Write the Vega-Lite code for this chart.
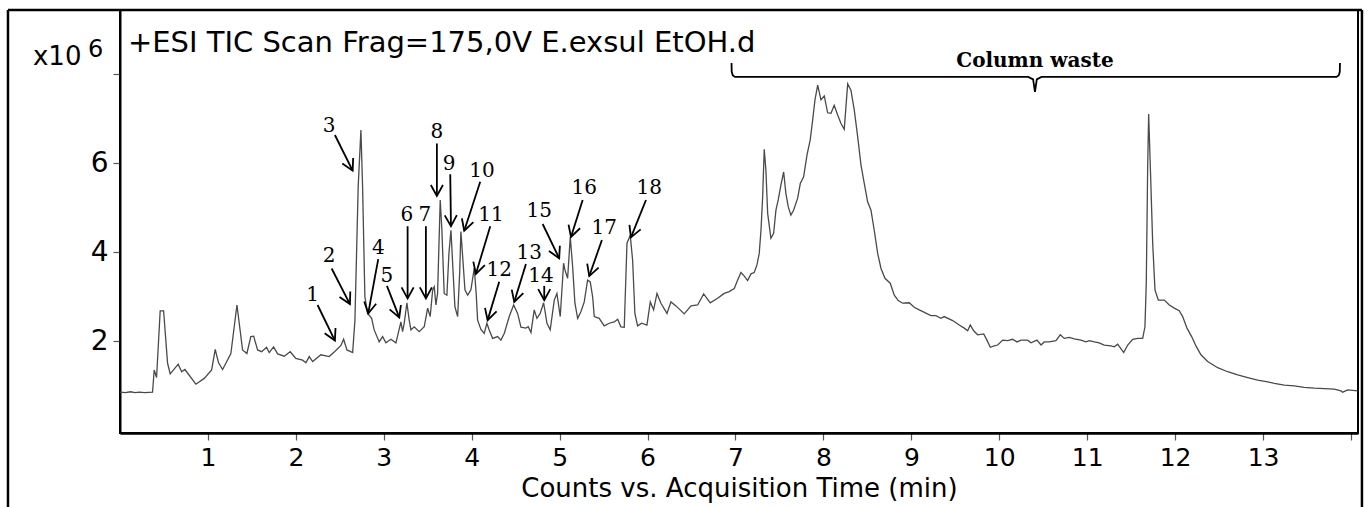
{
  "$schema": "https://vega.github.io/schema/vega-lite/v6.json",
  "width": 1238,
  "height": 423,
  "autosize": {"type": "none"},
  "padding": {"left": 120, "top": 10, "right": 10, "bottom": 74},
  "background": "white",
  "config": {
    "view": {"stroke": "black", "strokeWidth": 2},
    "axis": {"grid": false}
  },
  "datasets": {
    "tic": [
      {"t":0.0,"v":0.85},{"t":0.06,"v":0.84},{"t":0.12,"v":0.86},{"t":0.17,"v":0.84},{"t":0.22,"v":0.85},{"t":0.28,"v":0.84},{"t":0.37,"v":0.85},
      {"t":0.389,"v":1.35},{"t":0.416,"v":1.18},{"t":0.457,"v":2.68},{"t":0.496,"v":2.68},{"t":0.541,"v":1.5},{"t":0.571,"v":1.26},{"t":0.662,"v":1.48},{"t":0.701,"v":1.31},{"t":0.738,"v":1.36},{"t":0.863,"v":1.03},{"t":0.958,"v":1.16},
      {"t":1.042,"v":1.35},{"t":1.083,"v":1.81},{"t":1.121,"v":1.51},{"t":1.167,"v":1.36},{"t":1.261,"v":1.72},{"t":1.33,"v":2.81},{"t":1.394,"v":1.8},{"t":1.443,"v":1.72},{"t":1.488,"v":2.1},{"t":1.52,"v":2.11},{"t":1.565,"v":1.8},{"t":1.611,"v":1.76},{"t":1.667,"v":1.86},{"t":1.697,"v":1.74},{"t":1.747,"v":1.87},{"t":1.793,"v":1.71},{"t":1.868,"v":1.66},{"t":1.936,"v":1.76},
      {"t":2.0,"v":1.61},{"t":2.077,"v":1.57},{"t":2.114,"v":1.51},{"t":2.152,"v":1.65},{"t":2.191,"v":1.54},{"t":2.285,"v":1.69},{"t":2.379,"v":1.65},{"t":2.44,"v":1.76},{"t":2.513,"v":1.9},{"t":2.543,"v":2.04},{"t":2.581,"v":1.8},{"t":2.646,"v":1.74},{"t":2.672,"v":2.47},{"t":2.709,"v":5.47},{"t":2.74,"v":6.74},{"t":2.759,"v":5.47},{"t":2.785,"v":3.0},{"t":2.816,"v":2.62},{"t":2.862,"v":2.51},{"t":2.891,"v":2.25},{"t":2.948,"v":1.98},{"t":2.987,"v":2.1},
      {"t":3.024,"v":1.96},{"t":3.081,"v":2.04},{"t":3.138,"v":1.96},{"t":3.164,"v":2.17},{"t":3.195,"v":2.43},{"t":3.214,"v":2.21},{"t":3.233,"v":2.41},{"t":3.263,"v":2.86},{"t":3.289,"v":2.47},{"t":3.309,"v":2.25},{"t":3.346,"v":2.32},{"t":3.403,"v":2.21},{"t":3.46,"v":2.32},{"t":3.499,"v":2.74},{"t":3.528,"v":2.55},{"t":3.556,"v":3.15},{"t":3.574,"v":3.22},{"t":3.593,"v":2.81},{"t":3.612,"v":3.07},{"t":3.642,"v":5.17},{"t":3.661,"v":4.49},{"t":3.687,"v":3.07},{"t":3.718,"v":3.03},{"t":3.741,"v":3.97},{"t":3.764,"v":4.49},{"t":3.787,"v":3.6},{"t":3.809,"v":2.77},{"t":3.84,"v":2.55},{"t":3.863,"v":3.52},{"t":3.877,"v":4.46},{"t":3.9,"v":3.82},{"t":3.923,"v":3.15},{"t":3.954,"v":3.03},{"t":3.991,"v":3.15},
      {"t":4.029,"v":3.64},{"t":4.051,"v":3.07},{"t":4.067,"v":2.47},{"t":4.105,"v":2.26},{"t":4.142,"v":2.17},{"t":4.173,"v":2.4},{"t":4.199,"v":2.25},{"t":4.238,"v":2.06},{"t":4.295,"v":2.1},{"t":4.332,"v":2.02},{"t":4.37,"v":2.17},{"t":4.427,"v":2.55},{"t":4.477,"v":2.81},{"t":4.522,"v":2.62},{"t":4.56,"v":2.31},{"t":4.617,"v":2.29},{"t":4.643,"v":2.32},{"t":4.674,"v":2.19},{"t":4.711,"v":2.7},{"t":4.742,"v":2.51},{"t":4.779,"v":2.62},{"t":4.818,"v":2.86},{"t":4.856,"v":2.4},{"t":4.893,"v":2.25},{"t":4.939,"v":2.92},{"t":4.969,"v":3.07},
      {"t":5.007,"v":2.55},{"t":5.045,"v":3.75},{"t":5.06,"v":3.6},{"t":5.091,"v":3.41},{"t":5.121,"v":4.34},{"t":5.148,"v":3.67},{"t":5.174,"v":2.85},{"t":5.205,"v":2.51},{"t":5.242,"v":2.66},{"t":5.28,"v":2.88},{"t":5.318,"v":3.37},{"t":5.348,"v":3.33},{"t":5.375,"v":3.0},{"t":5.394,"v":2.55},{"t":5.45,"v":2.51},{"t":5.507,"v":2.34},{"t":5.564,"v":2.4},{"t":5.621,"v":2.43},{"t":5.66,"v":2.49},{"t":5.697,"v":2.32},{"t":5.735,"v":2.31},{"t":5.766,"v":4.2},{"t":5.803,"v":4.38},{"t":5.83,"v":3.82},{"t":5.856,"v":2.62},{"t":5.887,"v":2.34},{"t":5.933,"v":2.4},{"t":5.993,"v":2.36},
      {"t":6.031,"v":2.88},{"t":6.069,"v":2.7},{"t":6.107,"v":3.07},{"t":6.152,"v":2.85},{"t":6.221,"v":2.62},{"t":6.266,"v":2.88},{"t":6.323,"v":2.79},{"t":6.417,"v":2.61},{"t":6.494,"v":2.79},{"t":6.57,"v":2.81},{"t":6.638,"v":3.06},{"t":6.713,"v":2.86},{"t":6.797,"v":2.96},{"t":6.872,"v":3.07},{"t":6.929,"v":3.11},{"t":6.986,"v":3.18},
      {"t":7.025,"v":3.37},{"t":7.062,"v":3.54},{"t":7.1,"v":3.46},{"t":7.138,"v":3.36},{"t":7.176,"v":3.51},{"t":7.213,"v":3.54},{"t":7.244,"v":3.71},{"t":7.27,"v":3.97},{"t":7.29,"v":4.49},{"t":7.309,"v":5.24},{"t":7.327,"v":6.31},{"t":7.346,"v":5.84},{"t":7.366,"v":4.87},{"t":7.403,"v":4.31},{"t":7.434,"v":4.42},{"t":7.46,"v":4.94},{"t":7.486,"v":5.17},{"t":7.517,"v":5.51},{"t":7.548,"v":5.8},{"t":7.573,"v":5.32},{"t":7.6,"v":5.02},{"t":7.63,"v":4.83},{"t":7.661,"v":4.94},{"t":7.707,"v":5.21},{"t":7.737,"v":5.54},{"t":7.775,"v":5.69},{"t":7.813,"v":6.18},{"t":7.85,"v":6.52},{"t":7.878,"v":6.97},{"t":7.904,"v":7.42},{"t":7.935,"v":7.75},{"t":7.972,"v":7.42},
      {"t":8.01,"v":7.51},{"t":8.048,"v":7.13},{"t":8.086,"v":7.12},{"t":8.123,"v":7.3},{"t":8.162,"v":7.08},{"t":8.2,"v":6.89},{"t":8.237,"v":6.76},{"t":8.276,"v":7.78},{"t":8.313,"v":7.64},{"t":8.351,"v":7.19},{"t":8.39,"v":6.59},{"t":8.427,"v":5.96},{"t":8.465,"v":5.54},{"t":8.503,"v":5.13},{"t":8.541,"v":4.94},{"t":8.578,"v":4.49},{"t":8.617,"v":3.97},{"t":8.655,"v":3.63},{"t":8.7,"v":3.41},{"t":8.76,"v":3.3},{"t":8.806,"v":3.03},{"t":8.851,"v":2.91},{"t":8.901,"v":2.85},{"t":8.976,"v":2.86},
      {"t":9.033,"v":2.76},{"t":9.09,"v":2.7},{"t":9.223,"v":2.57},{"t":9.28,"v":2.57},{"t":9.337,"v":2.51},{"t":9.374,"v":2.55},{"t":9.47,"v":2.46},{"t":9.545,"v":2.36},{"t":9.602,"v":2.29},{"t":9.641,"v":2.23},{"t":9.67,"v":2.36},{"t":9.709,"v":2.23},{"t":9.754,"v":2.14},{"t":9.823,"v":2.16},{"t":9.86,"v":2.02},{"t":9.898,"v":1.86},{"t":9.943,"v":1.89},{"t":9.982,"v":1.91},
      {"t":10.039,"v":2.02},{"t":10.096,"v":2.01},{"t":10.152,"v":2.04},{"t":10.201,"v":1.98},{"t":10.247,"v":2.02},{"t":10.323,"v":2.02},{"t":10.361,"v":1.96},{"t":10.429,"v":2.02},{"t":10.475,"v":1.91},{"t":10.512,"v":1.98},{"t":10.569,"v":1.98},{"t":10.645,"v":2.01},{"t":10.694,"v":2.14},{"t":10.739,"v":2.06},{"t":10.796,"v":2.08},{"t":10.853,"v":2.05},{"t":10.929,"v":2.02},{"t":10.986,"v":1.98},
      {"t":11.024,"v":2.01},{"t":11.081,"v":1.98},{"t":11.137,"v":1.96},{"t":11.194,"v":1.91},{"t":11.27,"v":1.89},{"t":11.308,"v":1.87},{"t":11.347,"v":1.93},{"t":11.415,"v":1.74},{"t":11.461,"v":1.91},{"t":11.518,"v":2.04},{"t":11.575,"v":2.06},{"t":11.631,"v":2.06},{"t":11.657,"v":2.32},{"t":11.672,"v":3.3},{"t":11.688,"v":5.92},{"t":11.699,"v":7.1},{"t":11.718,"v":5.92},{"t":11.745,"v":4.2},{"t":11.771,"v":3.15},{"t":11.809,"v":2.92},{"t":11.877,"v":2.92},{"t":11.934,"v":2.81},{"t":11.991,"v":2.74},
      {"t":12.047,"v":2.68},{"t":12.086,"v":2.55},{"t":12.135,"v":2.29},{"t":12.188,"v":2.1},{"t":12.237,"v":1.89},{"t":12.294,"v":1.69},{"t":12.37,"v":1.54},{"t":12.484,"v":1.4},{"t":12.598,"v":1.31},{"t":12.712,"v":1.24},{"t":12.825,"v":1.18},{"t":12.939,"v":1.12},
      {"t":13.053,"v":1.08},{"t":13.128,"v":1.05},{"t":13.242,"v":1.01},{"t":13.355,"v":0.99},{"t":13.469,"v":0.96},{"t":13.583,"v":0.94},{"t":13.697,"v":0.93},{"t":13.81,"v":0.92},{"t":13.886,"v":0.88},{"t":13.906,"v":0.85},{"t":13.963,"v":0.9},{"t":14.076,"v":0.88}
    ],
    "peaks": [
      {"n":"1","lx":2.191,"ly":3.03,"sx":2.247,"sy":2.81,"tx":2.444,"ty":2.01},
      {"n":"2","lx":2.379,"ly":3.91,"sx":2.407,"sy":3.63,"tx":2.615,"ty":2.83},
      {"n":"3","lx":2.379,"ly":6.83,"sx":2.444,"sy":6.63,"tx":2.646,"ty":5.83},
      {"n":"4","lx":2.937,"ly":4.08,"sx":2.937,"sy":3.84,"tx":2.823,"ty":2.62},
      {"n":"5","lx":3.036,"ly":3.46,"sx":3.036,"sy":3.24,"tx":3.176,"ty":2.53},
      {"n":"6","lx":3.263,"ly":4.83,"sx":3.271,"sy":4.58,"tx":3.271,"ty":2.96},
      {"n":"7","lx":3.468,"ly":4.83,"sx":3.479,"sy":4.58,"tx":3.479,"ty":2.96},
      {"n":"8","lx":3.604,"ly":6.7,"sx":3.604,"sy":6.44,"tx":3.604,"ty":5.26},
      {"n":"9","lx":3.744,"ly":5.99,"sx":3.756,"sy":5.75,"tx":3.764,"ty":4.58},
      {"n":"10","lx":4.116,"ly":5.83,"sx":4.097,"sy":5.58,"tx":3.915,"ty":4.48},
      {"n":"11","lx":4.219,"ly":4.83,"sx":4.211,"sy":4.58,"tx":4.048,"ty":3.51},
      {"n":"12","lx":4.313,"ly":3.6,"sx":4.313,"sy":3.33,"tx":4.181,"ty":2.47},
      {"n":"13","lx":4.654,"ly":3.98,"sx":4.617,"sy":3.73,"tx":4.484,"ty":2.88},
      {"n":"14","lx":4.787,"ly":3.47,"sx":4.825,"sy":3.24,"tx":4.825,"ty":2.92},
      {"n":"15","lx":4.768,"ly":4.93,"sx":4.807,"sy":4.63,"tx":4.995,"ty":3.86},
      {"n":"16","lx":5.28,"ly":5.43,"sx":5.262,"sy":5.17,"tx":5.129,"ty":4.34},
      {"n":"17","lx":5.507,"ly":4.55,"sx":5.481,"sy":4.27,"tx":5.337,"ty":3.46},
      {"n":"18","lx":6.019,"ly":5.43,"sx":5.982,"sy":5.17,"tx":5.811,"ty":4.33}
    ],
    "brace": [
      {"i":0,"x":6.955,"y":8.25},{"i":1,"x":6.957,"y":8.05},{"i":2,"x":6.97,"y":7.97},{"i":3,"x":6.995,"y":7.935},
      {"i":4,"x":10.33,"y":7.935},{"i":5,"x":10.385,"y":7.88},{"i":6,"x":10.406,"y":7.6},{"i":7,"x":10.427,"y":7.88},{"i":8,"x":10.48,"y":7.935},
      {"i":9,"x":13.835,"y":7.935},{"i":10,"x":13.86,"y":7.97},{"i":11,"x":13.873,"y":8.05},{"i":12,"x":13.875,"y":8.25}
    ],
    "one": [{"k": 1}]
  },
  "layer": [
    {
      "data": {"name": "tic"},
      "mark": {"type": "line", "stroke": "#4a4a4a", "strokeWidth": 1.3, "clip": true},
      "encoding": {
        "x": {"field": "t", "type": "quantitative", "scale": {"domain": [0, 14.08], "nice": false, "zero": false},
          "axis": {"values": [1,2,3,4,5,6,7,8,9,10,11,12,13,14], "format": "d", "labelExpr": "datum.value == 14 ? '' : datum.label",
            "domainColor": "black", "domainWidth": 2.5, "tickColor": "#555", "tickSize": 7, "tickWidth": 1.2,
            "labelFont": "DejaVu Sans", "labelFontSize": 25, "labelColor": "black", "labelPadding": 5,
            "title": "Counts vs. Acquisition Time (min)", "titleFont": "DejaVu Sans", "titleFontSize": 26, "titleFontWeight": "normal", "titleColor": "black", "titleBaseline": "alphabetic", "titleY": 63}},
        "y": {"field": "v", "type": "quantitative", "scale": {"domain": [-0.067, 9.44], "nice": false, "zero": false},
          "axis": {"values": [2,4,6,8], "format": "d", "labelExpr": "datum.value == 8 ? '' : datum.label",
            "domainColor": "black", "domainWidth": 2, "tickColor": "#555", "tickSize": 7, "tickWidth": 1.2,
            "labelFont": "DejaVu Sans", "labelFontSize": 28, "labelColor": "black", "labelPadding": 5, "title": null}}
      }
    },
    {
      "data": {"name": "peaks"},
      "mark": {"type": "rule", "stroke": "black", "strokeWidth": 1.8},
      "encoding": {
        "x": {"field": "sx", "type": "quantitative", "scale": {"domain": [0, 14.08], "nice": false, "zero": false}},
        "y": {"field": "sy", "type": "quantitative", "scale": {"domain": [-0.067, 9.44], "nice": false, "zero": false}},
        "x2": {"field": "tx"},
        "y2": {"field": "ty"}
      }
    },
    {
      "data": {"name": "peaks"},
      "transform": [{"calculate": "atan2(-(datum.tx - datum.sx) * 87.93, (datum.sy - datum.ty) * 44.5) * 180 / PI", "as": "ang"}],
      "mark": {"type": "point", "shape": "M-0.55,-1L0,0L0.55,-1", "filled": false, "stroke": "black", "strokeWidth": 1.8, "size": 484, "opacity": 1},
      "encoding": {
        "x": {"field": "tx", "type": "quantitative", "scale": {"domain": [0, 14.08], "nice": false, "zero": false}},
        "y": {"field": "ty", "type": "quantitative", "scale": {"domain": [-0.067, 9.44], "nice": false, "zero": false}},
        "angle": {"field": "ang", "type": "quantitative", "scale": null}
      }
    },
    {
      "data": {"name": "peaks"},
      "mark": {"type": "text", "font": "DejaVu Serif", "fontSize": 20, "color": "black", "align": "center", "baseline": "middle"},
      "encoding": {
        "x": {"field": "lx", "type": "quantitative", "scale": {"domain": [0, 14.08], "nice": false, "zero": false}},
        "y": {"field": "ly", "type": "quantitative", "scale": {"domain": [-0.067, 9.44], "nice": false, "zero": false}},
        "text": {"field": "n"}
      }
    },
    {
      "data": {"name": "brace"},
      "mark": {"type": "line", "stroke": "black", "strokeWidth": 1.8},
      "encoding": {
        "x": {"field": "x", "type": "quantitative", "scale": {"domain": [0, 14.08], "nice": false, "zero": false}},
        "y": {"field": "y", "type": "quantitative", "scale": {"domain": [-0.067, 9.44], "nice": false, "zero": false}},
        "order": {"field": "i"}
      }
    },
    {
      "data": {"name": "one"},
      "mark": {"type": "text", "text": "Column waste", "font": "DejaVu Serif", "fontWeight": "bold", "fontSize": 20, "color": "black", "align": "center", "baseline": "middle"},
      "encoding": {
        "x": {"datum": 10.406, "type": "quantitative", "scale": {"domain": [0, 14.08], "nice": false, "zero": false}},
        "y": {"datum": 8.3, "type": "quantitative", "scale": {"domain": [-0.067, 9.44], "nice": false, "zero": false}}
      }
    },
    {
      "data": {"name": "one"},
      "mark": {"type": "text", "text": "+ESI TIC Scan Frag=175,0V E.exsul EtOH.d", "font": "DejaVu Sans", "fontSize": 29, "color": "black", "align": "left", "baseline": "alphabetic"},
      "encoding": {
        "x": {"datum": 0.09, "type": "quantitative", "scale": {"domain": [0, 14.08], "nice": false, "zero": false}},
        "y": {"datum": 8.49, "type": "quantitative", "scale": {"domain": [-0.067, 9.44], "nice": false, "zero": false}}
      }
    },
    {
      "data": {"name": "one"},
      "mark": {"type": "text", "text": "x10", "font": "DejaVu Sans", "fontSize": 26, "color": "black", "align": "left", "baseline": "alphabetic"},
      "encoding": {
        "x": {"datum": -0.99, "type": "quantitative", "scale": {"domain": [0, 14.08], "nice": false, "zero": false}},
        "y": {"datum": 8.2, "type": "quantitative", "scale": {"domain": [-0.067, 9.44], "nice": false, "zero": false}}
      }
    },
    {
      "data": {"name": "one"},
      "mark": {"type": "text", "text": "6", "font": "DejaVu Sans", "fontSize": 24, "color": "black", "align": "left", "baseline": "alphabetic"},
      "encoding": {
        "x": {"datum": -0.364, "type": "quantitative", "scale": {"domain": [0, 14.08], "nice": false, "zero": false}},
        "y": {"datum": 8.38, "type": "quantitative", "scale": {"domain": [-0.067, 9.44], "nice": false, "zero": false}}
      }
    },
    {
      "data": {"name": "one"},
      "mark": {"type": "rule", "stroke": "black", "strokeWidth": 2.5},
      "encoding": {
        "x": {"datum": -1.274, "type": "quantitative", "scale": {"domain": [0, 14.08], "nice": false, "zero": false}},
        "x2": {"datum": 14.125},
        "y": {"datum": 9.44, "type": "quantitative", "scale": {"domain": [-0.067, 9.44], "nice": false, "zero": false}}
      }
    },
    {
      "data": {"name": "one"},
      "mark": {"type": "rule", "stroke": "black", "strokeWidth": 2.5},
      "encoding": {
        "x": {"datum": -1.274, "type": "quantitative", "scale": {"domain": [0, 14.08], "nice": false, "zero": false}},
        "y": {"datum": 9.44, "type": "quantitative", "scale": {"domain": [-0.067, 9.44], "nice": false, "zero": false}},
        "y2": {"datum": -1.75}
      }
    },
    {
      "data": {"name": "one"},
      "mark": {"type": "rule", "stroke": "black", "strokeWidth": 2.5},
      "encoding": {
        "x": {"datum": 14.125, "type": "quantitative", "scale": {"domain": [0, 14.08], "nice": false, "zero": false}},
        "y": {"datum": 9.44, "type": "quantitative", "scale": {"domain": [-0.067, 9.44], "nice": false, "zero": false}},
        "y2": {"datum": -1.75}
      }
    }
  ]
}
